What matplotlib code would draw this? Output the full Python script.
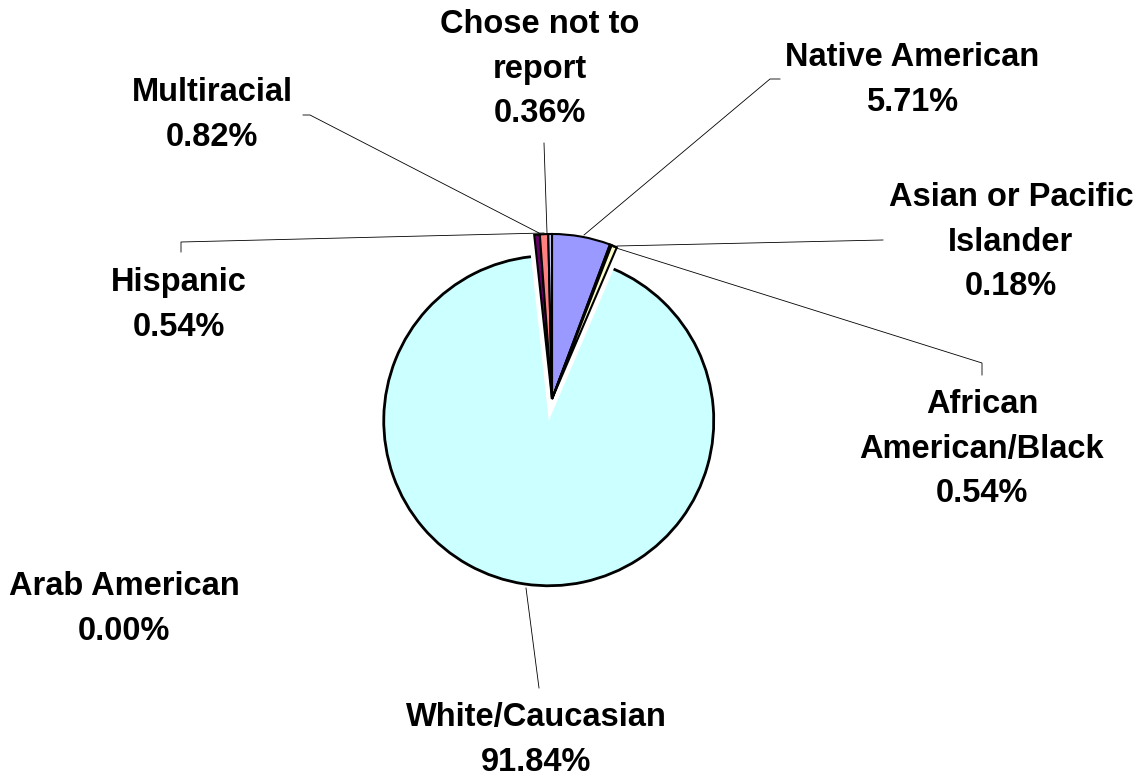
import matplotlib.pyplot as plt
from matplotlib.patches import Arc

# data
labels = ['Native American', 'Asian or Pacific\nIslander', 'African\nAmerican/Black',
          'White/Caucasian', 'Arab American', 'Hispanic', 'Multiracial', 'Chose not to\nreport']
values = [5.71, 0.18, 0.54, 91.84, 0.00, 0.54, 0.82, 0.36]
colors = ['#9999FF', '#993366', '#FFFFCC', '#CCFFFF', '#660066', '#660066', '#FF8080', '#CCCCFF']

W, H = 1145, 779

def py(y):
    # pixel row -> data y (y goes up)
    return H - y

fig = plt.figure(figsize=(W / 100, H / 100), dpi=100)
ax = fig.add_axes([0, 0, 1, 1])

# white slice pulled out by ~22 px (explode is in data units here)
explode = [22 if l.startswith('White') else 0 for l in labels]
wedges, _ = ax.pie(values, colors=colors, explode=explode, startangle=90,
                   counterclock=False, center=(552, py(399)), radius=165,
                   wedgeprops=dict(edgecolor='black', linewidth=1.5))
for w, v, l in zip(wedges, values, labels):
    if v == 0:
        w.set_visible(False)
    if l.startswith('White'):
        # only the outer rim is outlined on the big slice
        w.set_linewidth(0)
        ax.add_patch(Arc(w.center, 2 * w.r, 2 * w.r, theta1=w.theta1, theta2=w.theta2,
                         color='black', lw=2.0))

ax.set_xlim(0, W)
ax.set_ylim(0, H)
ax.set_aspect('auto')
ax.axis('off')

# label positions (pixels) and leader lines
label_pos = [(912, 80), (1011, 242), (982, 449), (536, 740),
             (124, 609), (179, 305), (212, 115), (540, 69)]
leaders = [
    [(780, 79), (770, 79), (584, 235)],
    [(883, 240), (617, 246)],
    [(982, 375), (982, 363), (613, 247)],
    [(539, 688), (526, 588)],
    None,
    [(181, 252), (181, 242), (544, 233)],
    [(303, 115), (310, 115), (539, 233)],
    [(544, 143), (547, 233)],
]

for lab, v, (x, y), ld in zip(labels, values, label_pos, leaders):
    ax.text(x, py(y), lab + '\n' + f'{v:.2f}%', ha='center', va='center',
            multialignment='center', fontsize=23.5, fontweight='bold',
            family='Liberation Sans', linespacing=1.55, color='black')
    if ld:
        ax.plot([p[0] for p in ld], [py(p[1]) for p in ld], color='black', lw=0.6)

plt.savefig('out.png', dpi=100)
